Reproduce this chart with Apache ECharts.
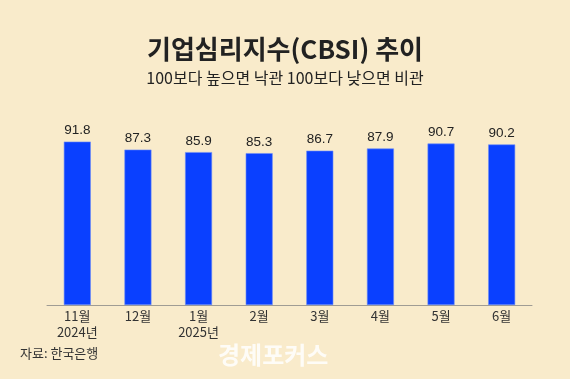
<!DOCTYPE html>
<html><head><meta charset="utf-8">
<script src="https://cdn.jsdelivr.net/npm/echarts@6/dist/echarts.min.js"></script>
<style>html,body{margin:0;padding:0;background:#F9EBCB;}#c{width:570px;height:379px;}</style>
</head><body><div id="c"></div>
<script>
const categories = ['11월\n2024년','12월','1월\n2025년','2월','3월','4월','5월','6월'];
const values = [91.8, 87.3, 85.9, 85.3, 86.7, 87.9, 90.7, 90.2];
const titleText = '기업심리지수(CBSI) 추이';
const subtitleText = '100보다 높으면 낙관 100보다 낮으면 비관';
const sourceText = '자료: 한국은행';
const watermarkText = '경제포커스';

const chart = echarts.init(document.getElementById('c'));
chart.setOption({
  backgroundColor: '#F9EBCB',
  animation: false,
  title: {
    text: titleText, subtext: subtitleText, left: 'center', top: 31, itemGap: 8,
    textStyle: {fontFamily: 'Noto Sans CJK KR', fontSize: 26, fontWeight: 'bold', color: '#222'},
    subtextStyle: {fontFamily: 'Noto Sans CJK KR', fontSize: 16, color: '#222'}
  },
  grid: {left: 47, right: 38, top: 127, bottom: 74},
  xAxis: {
    type: 'category', data: categories,
    axisLine: {lineStyle: {color: '#A09C94', width: 1}},
    axisTick: {show: false},
    axisLabel: {fontFamily: 'Noto Sans CJK KR', fontSize: 13, color: '#333', margin: 3, lineHeight: 16}
  },
  yAxis: {type: 'value', min: 0, max: 100, show: false, splitLine: {show: false}},
  series: [{
    type: 'bar', data: values, barWidth: 27,
    itemStyle: {color: '#0A40FF', borderColor: '#6F8DF7', borderWidth: 0.6},
    label: {show: true, position: 'top', distance: 4, fontFamily: 'Liberation Sans', fontSize: 13.5, color: '#222'}
  }],
  graphic: [
    {type: 'text', left: 20, top: 347, style: {text: sourceText, font: '13px "Noto Sans CJK KR"', fill: '#333'}},
    {type: 'text', left: 218, top: 343, style: {text: watermarkText, font: 'bold 24px "Noto Sans CJK KR"', fill: 'rgba(255,255,255,0.85)'}}
  ]
});
</script></body></html>
